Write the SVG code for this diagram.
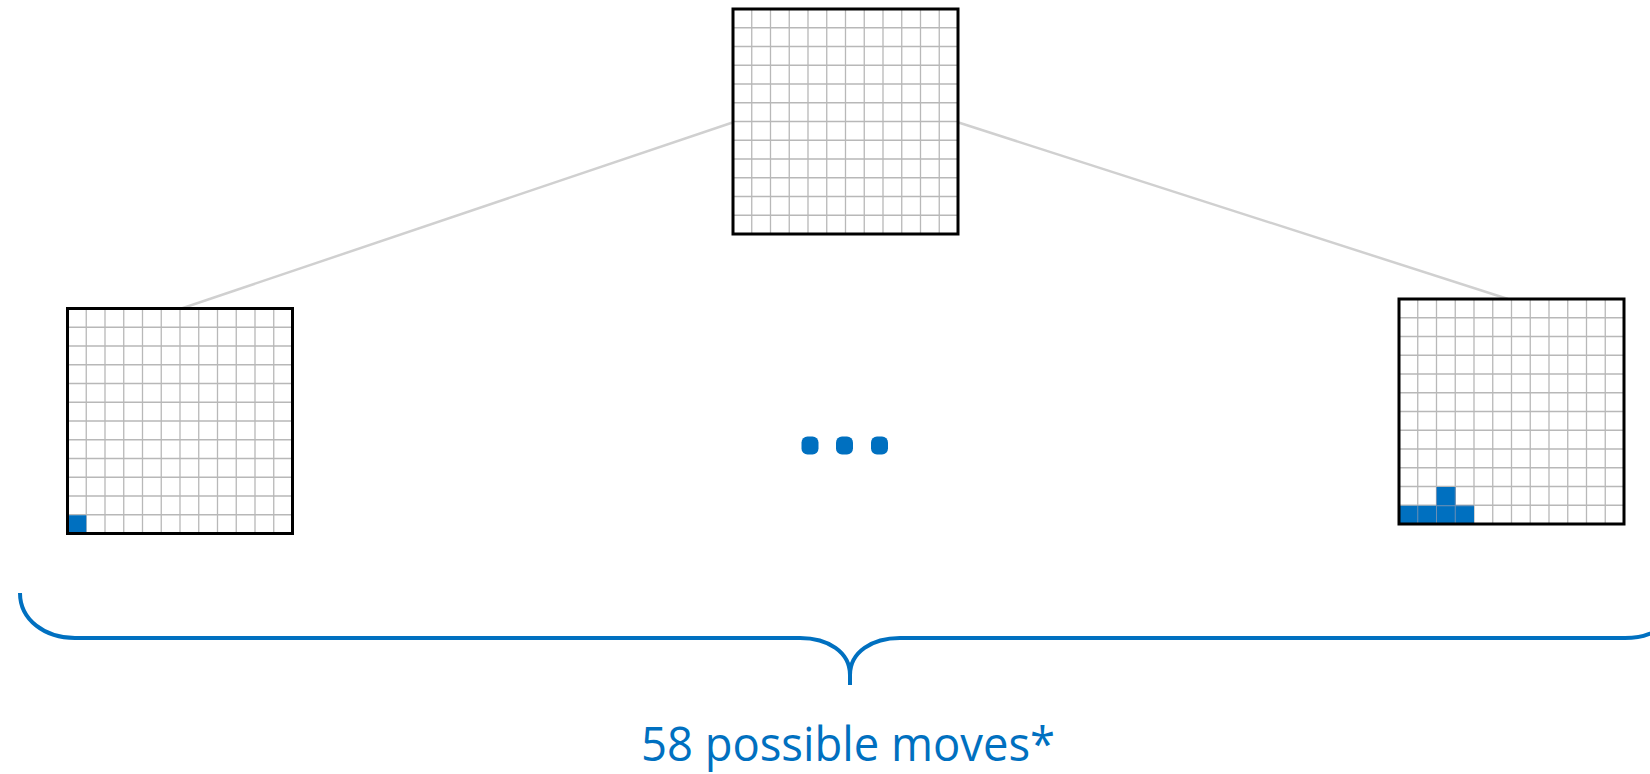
<svg xmlns="http://www.w3.org/2000/svg" xmlns:xlink="http://www.w3.org/1999/xlink" width="1650" height="774" viewBox="0 0 1650 774">
<style>
.gl{stroke:#b8b8b8;stroke-width:1.3;fill:none}
.bd{stroke:#000;stroke-width:3;fill:none}
.blk{fill:#0070c0}
.conn{stroke:#d0d0d0;stroke-width:2.5;fill:none}
.brace{stroke:#0070c0;stroke-width:4;fill:none}
.lbl{font-family:"Open Sans","Noto Sans","Liberation Sans",sans-serif;font-size:47px;fill:#0070c0}
</style>
<defs>
<g id="grid">
<rect x="0" y="0" width="225" height="225" fill="#fff"/>
<path class="gl" d="M18.75,0V225M37.5,0V225M56.25,0V225M75,0V225M93.75,0V225M112.5,0V225M131.25,0V225M150,0V225M168.75,0V225M187.5,0V225M206.25,0V225M0,18.75H225M0,37.5H225M0,56.25H225M0,75H225M0,93.75H225M0,112.5H225M0,131.25H225M0,150H225M0,168.75H225M0,187.5H225M0,206.25H225"/>
</g>
</defs>
<rect width="1650" height="774" fill="#fff"/>
<g id="connectors">
<line class="conn" x1="734" y1="122" x2="180" y2="309"/>
<line class="conn" x1="957" y1="122" x2="1508" y2="299"/>
</g>
<g id="root">
<use xlink:href="#grid" x="733" y="9"/>
<rect class="bd" x="733" y="9" width="225" height="225"/>
</g>
<g id="left">
<use xlink:href="#grid" x="67.5" y="308.5"/>
<rect class="blk" x="67.5" y="515.25" width="18.75" height="18.75"/>
<rect class="bd" x="67.5" y="308.5" width="225" height="225"/>
</g>
<g id="right">
<use xlink:href="#grid" x="1399" y="299"/>
<rect class="blk" x="1399" y="505.75" width="75" height="18.25"/>
<rect class="blk" x="1436.5" y="487" width="18.75" height="18.75"/>
<path d="M1417.75,505.75V524M1436.5,487V524M1455.25,487V524M1436.5,505.75H1474" stroke="#6a8fb5" stroke-width="1" fill="none"/>
<rect class="bd" x="1399" y="299" width="225" height="225"/>
</g>
<g id="ellipsis">
<rect class="blk" x="801.5" y="436.5" width="17" height="18" rx="6"/>
<rect class="blk" x="836" y="436.5" width="17" height="18" rx="6"/>
<rect class="blk" x="871" y="436.5" width="17" height="18" rx="6"/>
</g>
<g id="brace">
<path class="brace" d="M20,593 C20,620 45,638 75,638 L800,638 C828,638 850,652 850,675 L850,685 M850,675 C850,652 872,638 900,638 L1625,638 C1655,638 1680,620 1680,593"/>
<text class="lbl" x="848" y="761" text-anchor="middle" textLength="414" lengthAdjust="spacingAndGlyphs">58 possible moves*</text>
</g>
</svg>
